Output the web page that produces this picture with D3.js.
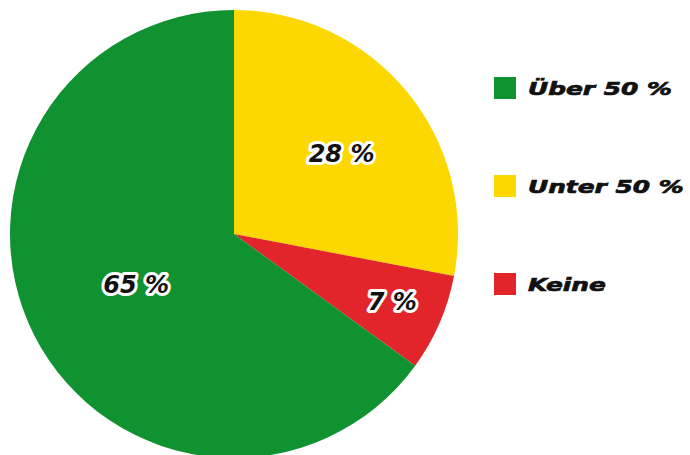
<!DOCTYPE html>
<html lang="de">
<head>
  <meta charset="UTF-8">
  <title>Anteil</title>
  <script src="https://d3js.org/d3.v7.min.js"></script>
  <style>
    body { margin: 0; background: #fff; }
    .slice-label {
      font-family: "DejaVu Sans", sans-serif;
      font-weight: bold;
      font-style: italic;
      font-size: 24px;
      fill: #111;
      stroke: #fff;
      stroke-width: 6px;
      stroke-linejoin: round;
      paint-order: stroke;
    }
    .legend text {
      font-family: "DejaVu Sans", sans-serif;
      font-weight: bold;
      font-style: italic;
      font-size: 18px;
      fill: #111;
      stroke: #111;
      stroke-width: 0.7px;
    }
  </style>
</head>
<body>
  <svg id="chart" width="690" height="455"></svg>
  <script>
    // data, in drawing order (clockwise from 12 o'clock)
    const categories = ["Unter 50 %", "Keine", "Über 50 %"];
    const values = [28, 7, 65];
    const valueLabels = ["28 %", "7 %", "65 %"];
    // legend order as in the picture
    const legendOrder = ["Über 50 %", "Unter 50 %", "Keine"];

    const colors = {
      "Über 50 %": "#119231",
      "Unter 50 %": "#fdd700",
      "Keine": "#e2242b"
    };
    // how far out each label sits, as share of the radius
    const labelRadius = [0.6, 0.76, 0.5];

    const svg = d3.select("#chart");
    const cx = 234, cy = 234, radius = 224;

    const g = svg.append("g").attr("transform", `translate(${cx},${cy})`);

    const pie = d3.pie().sort(null).value(d => d.value);
    const arcs = pie(categories.map((c, i) => ({ cat: c, value: values[i], label: valueLabels[i] })));

    const arc = d3.arc().innerRadius(0).outerRadius(radius);

    g.selectAll("path")
      .data(arcs)
      .join("path")
      .attr("d", arc)
      .attr("fill", d => colors[d.data.cat]);

    g.selectAll("text.slice-label")
      .data(arcs)
      .join("text")
      .attr("class", "slice-label")
      .attr("transform", (d, i) => {
        const r = radius * labelRadius[i];
        const c = d3.arc().innerRadius(r).outerRadius(r).centroid(d);
        return `translate(${c[0] + (i === 0 ? 4 : 2)},${c[1] + (i === 0 ? 5 : 0)})`;
      })
      .attr("text-anchor", "middle")
      .attr("dy", "0.36em")
      .text(d => d.data.label);

    // legend
    const legend = svg.append("g")
      .attr("class", "legend")
      .attr("transform", "translate(494,77)");

    const y = d3.scalePoint().domain(legendOrder).range([0, 196]);

    const rows = legend.selectAll("g")
      .data(legendOrder)
      .join("g")
      .attr("transform", d => `translate(0,${y(d)})`);

    rows.append("rect")
      .attr("width", 22)
      .attr("height", 22)
      .attr("fill", d => colors[d]);

    rows.append("text")
      .attr("transform", "translate(34,18) scale(1.38,1)")
      .text(d => d);
  </script>
</body>
</html>
